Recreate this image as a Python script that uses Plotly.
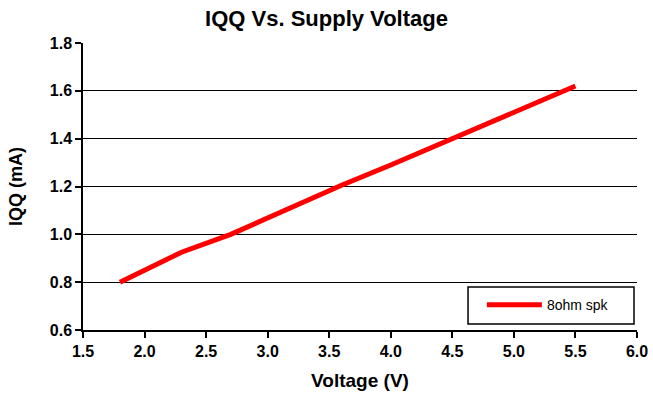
import plotly.graph_objects as go

# Supply voltage (V) and quiescent current IQQ (mA)
voltage = [1.8, 2.3, 2.7, 3.0, 3.6, 4.0, 4.5, 5.0, 5.5]
iqq_ma = [0.80, 0.925, 1.00, 1.07, 1.205, 1.29, 1.40, 1.51, 1.62]
series_name = "8ohm spk"

x_ticks = [1.5, 2.0, 2.5, 3.0, 3.5, 4.0, 4.5, 5.0, 5.5, 6.0]
y_ticks = [0.6, 0.8, 1.0, 1.2, 1.4, 1.6, 1.8]

font_family = "Liberation Sans, Arial, sans-serif"

fig = go.Figure()
fig.add_trace(go.Scatter(
    x=voltage, y=iqq_ma, mode="lines", name=series_name,
    line=dict(color="#ff0000", width=5),
))

# legend frame
fig.add_shape(type="rect", xref="paper", yref="paper",
              x0=0.695, x1=0.9946, y0=0.021, y1=0.1498,
              line=dict(color="black", width=1.5), fillcolor="white", layer="above")

fig.update_layout(
    width=653, height=404,
    margin=dict(l=83, r=16, t=43, b=74),
    paper_bgcolor="white", plot_bgcolor="white",
    title=dict(text="IQQ Vs. Supply Voltage", x=0.5, xanchor="center",
               y=0.955, yanchor="middle",
               font=dict(family=font_family, size=22, color="black", weight="bold")),
    showlegend=True,
    legend=dict(x=0.72, y=0.087, xanchor="left", yanchor="middle",
                bgcolor="rgba(0,0,0,0)", borderwidth=0,
                font=dict(family=font_family, size=14, color="black"),
                itemwidth=55),
    xaxis=dict(
        range=[1.5, 6.0], tickvals=x_ticks,
        ticktext=[f"{v:.1f}" for v in x_ticks],
        showgrid=False, zeroline=False, automargin=False,
        showline=True, linecolor="black", linewidth=1.5,
        ticks="outside", ticklen=6, tickcolor="black", tickwidth=1.5,
        tickfont=dict(family=font_family, size=16, color="black", weight="bold"),
        title=dict(text="Voltage (V)", standoff=15,
                   font=dict(family=font_family, size=19, color="black", weight="bold")),
    ),
    yaxis=dict(
        range=[0.6, 1.8], tickvals=y_ticks,
        ticktext=[f"{v:.1f}" for v in y_ticks],
        showgrid=True, gridcolor="black", gridwidth=1.3, zeroline=False,
        automargin=False,
        showline=True, linecolor="black", linewidth=1.5,
        ticks="outside", ticklen=6, tickcolor="black", tickwidth=1.5,
        tickfont=dict(family=font_family, size=16, color="black", weight="bold"),
        title=dict(text="IQQ (mA)", standoff=22,
                   font=dict(family=font_family, size=18, color="black", weight="bold")),
    ),
)

fig.write_html("out.html")
